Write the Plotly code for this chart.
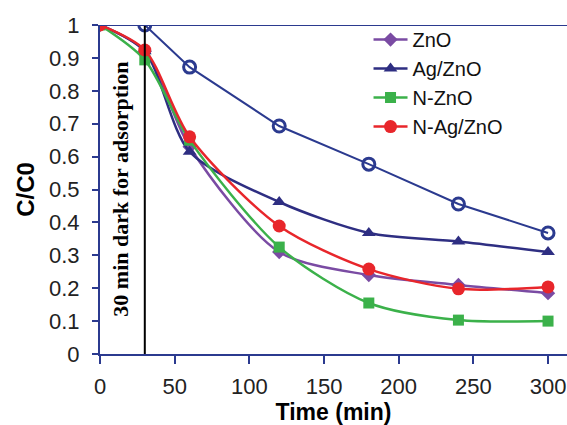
import plotly.graph_objects as go

time = [0, 30, 60, 120, 180, 240, 300]
zno = [1.0, 0.92, 0.63, 0.31, 0.24, 0.21, 0.185]
ag_zno = [1.0, 0.92, 0.615, 0.462, 0.368, 0.342, 0.31]
n_zno = [1.0, 0.894, 0.65, 0.325, 0.155, 0.103, 0.10]
n_ag_zno = [1.0, 0.924, 0.66, 0.389, 0.258, 0.198, 0.204]
photolysis_t = [30, 60, 120, 180, 240, 300]
photolysis = [1.0, 0.872, 0.693, 0.577, 0.456, 0.368]

NAVY = "#2B3A8F"
fig = go.Figure()

fig.add_trace(go.Scatter(x=photolysis_t, y=photolysis, mode="lines+markers", showlegend=False,
                         line=dict(color=NAVY, width=2),
                         marker=dict(symbol="circle-open", size=12, color=NAVY, line=dict(width=3))))
series = [
    ("ZnO", zno, "#7A4BA3", "diamond", 11),
    ("Ag/ZnO", ag_zno, "#2E2E82", "triangle-up", 12),
    ("N-ZnO", n_zno, "#3BB14A", "square", 11),
    ("N-Ag/ZnO", n_ag_zno, "#E8262B", "circle", 13),
]
for name, vals, col, sym, sz in series:
    fig.add_trace(go.Scatter(x=time, y=vals, name=name, mode="lines+markers",
                             line=dict(color=col, width=2.5, shape="spline", smoothing=0.8),
                             marker=dict(symbol=sym, size=sz, color=col)))

fig.add_shape(type="line", x0=30, x1=30, y0=0, y1=1, xref="x", yref="y",
              line=dict(color="black", width=2))
fig.add_annotation(x=13.5, y=0.5, xref="x", yref="y", text="<b>30 min dark for adsorption</b>",
                   textangle=-90, showarrow=False,
                   font=dict(family="Liberation Serif, Times New Roman, serif", size=22, color="black"))
# top frame line
fig.add_shape(type="line", x0=0, x1=1, y0=1, y1=1, xref="paper", yref="y",
              line=dict(color=NAVY, width=2))

fig.update_layout(
    width=567, height=425,
    margin=dict(l=100, r=0, t=25, b=71),
    paper_bgcolor="white", plot_bgcolor="white",
    font=dict(family="Arial, Liberation Sans, sans-serif", size=22, color="#222222"),
    legend=dict(x=0.575, y=1.015, xanchor="left", yanchor="top", bgcolor="rgba(0,0,0,0)",
                font=dict(size=20, color="#111111"), tracegroupgap=0, itemwidth=34),
    xaxis=dict(range=[0, 312.7], tickvals=[0, 50, 100, 150, 200, 250, 300],
               showline=True, linecolor=NAVY, linewidth=2, ticks="outside", ticklen=8,
               tickcolor=NAVY, tickwidth=2, showgrid=False, zeroline=False,
               ticklabelstandoff=4,
               title=dict(text="<b>Time (min)</b>", font=dict(size=23, color="black"), standoff=2)),
    yaxis=dict(range=[0, 1], tickvals=[0, 0.1, 0.2, 0.3, 0.4, 0.5, 0.6, 0.7, 0.8, 0.9, 1],
               ticktext=["0", "0.1", "0.2", "0.3", "0.4", "0.5", "0.6", "0.7", "0.8", "0.9", "1"],
               showline=True, linecolor=NAVY, linewidth=2, ticks="outside", ticklen=6,
               tickcolor=NAVY, tickwidth=2, showgrid=False, zeroline=False,
               ticklabelstandoff=8,
               title=dict(text="<b>C/C0</b>", font=dict(size=24, color="black"), standoff=8)),
)

fig.write_html("out.html")
